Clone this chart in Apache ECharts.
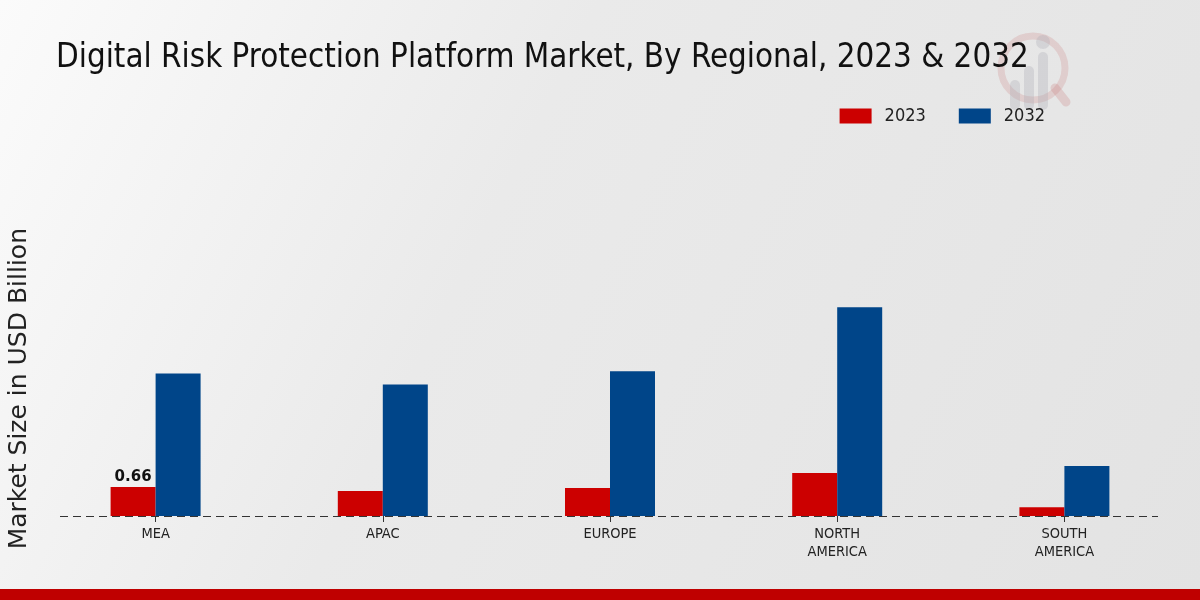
<!DOCTYPE html>
<html><head><meta charset="utf-8">
<script src="https://cdn.jsdelivr.net/npm/echarts@6/dist/echarts.min.js"></script>
<style>html,body{margin:0;padding:0;}#c{width:1200px;height:600px;}</style>
</head><body><div id="c"></div>
<script>
const categories = ['MEA', 'APAC', 'EUROPE', 'NORTH\nAMERICA', 'SOUTH\nAMERICA'];
const values2023 = [0.66, 0.57, 0.64, 0.98, 0.20];
const values2032 = [3.25, 3.00, 3.30, 4.76, 1.14];
const seriesNames = ['2023', '2032'];

const chart = echarts.init(document.getElementById('c'));
chart.setOption({
  animation: false,
  backgroundColor: new echarts.graphic.LinearGradient(0, 0, 1, 1, [
    {offset: 0, color: '#fbfbfb'}, {offset: 0.4, color: '#eaeaea'}, {offset: 1, color: '#e3e3e3'}
  ]),
  title: {
    text: 'Digital Risk Protection Platform Market, By Regional, 2023 & 2032',
    left: 51, top: 37,
    textStyle: {fontFamily: 'DejaVu Sans Condensed', fontWeight: 'normal', fontSize: 32.8, color: '#111'}
  },
  legend: {
    data: seriesNames, right: 150, top: 102, itemWidth: 32, itemHeight: 15, itemGap: 33, icon: 'rect',
    textStyle: {fontFamily: 'DejaVu Sans Condensed', fontSize: 18, color: '#222', padding: [0, 0, 0, 8]}
  },
  grid: {left: 42, right: 22, top: 165, bottom: 84},
  xAxis: {
    type: 'category', data: categories,
    axisLine: {show: false},
    axisTick: {show: true, alignWithLabel: true, length: 6, lineStyle: {color: '#333'}},
    axisLabel: {fontFamily: 'DejaVu Sans Condensed', fontSize: 14.5, color: '#222', margin: 9, lineHeight: 18}
  },
  yAxis: {type: 'value', min: 0, max: 8, show: false, splitLine: {show: false}},
  graphic: [
    {type: 'line', shape: {x1: 60, y1: 516.5, x2: 1158, y2: 516.5}, style: {stroke: '#333', lineWidth: 1, lineDash: [8, 5]}, z: 100},
    {type: 'text', left: 7, top: 228, rotation: Math.PI / 2, style: {text: 'Market Size in USD Billion', font: '25px "DejaVu Sans"', fill: '#222'}},
    {type: 'rect', shape: {x: 0, y: 589, width: 1200, height: 11}, style: {fill: '#bf0000'}},
    {type: 'group', z: -1, children: [
      {type: 'circle', shape: {cx: 1033, cy: 68, r: 32}, style: {fill: 'none', stroke: 'rgba(200,120,120,0.22)', lineWidth: 7}},
      {type: 'rect', shape: {x: 1010, y: 80, width: 10, height: 30, r: 5}, style: {fill: 'rgba(170,170,180,0.3)'}},
      {type: 'rect', shape: {x: 1024, y: 66, width: 10, height: 44, r: 5}, style: {fill: 'rgba(170,170,180,0.3)'}},
      {type: 'rect', shape: {x: 1038, y: 52, width: 10, height: 58, r: 5}, style: {fill: 'rgba(170,170,180,0.3)'}},
      {type: 'circle', shape: {cx: 1043, cy: 42, r: 7}, style: {fill: 'rgba(170,170,180,0.3)'}},
      {type: 'line', shape: {x1: 1055, y1: 88, x2: 1066, y2: 102}, style: {stroke: 'rgba(200,120,120,0.25)', lineWidth: 9, lineCap: 'round'}}
    ]}
  ],
  series: [
    {
      name: seriesNames[0], type: 'bar', data: values2023.map((v, i) => i === 0 ? {value: v, label: {show: true}} : v),
      barWidth: 45, barGap: '0%', itemStyle: {color: '#cc0000'},
      label: {show: false, position: 'top', fontFamily: 'DejaVu Sans', fontWeight: 'bold', fontSize: 15, color: '#111', distance: 2}
    },
    {
      name: seriesNames[1], type: 'bar', data: values2032,
      barWidth: 45, barGap: '0%', itemStyle: {color: '#004589'}
    }
  ]
});
</script></body></html>
